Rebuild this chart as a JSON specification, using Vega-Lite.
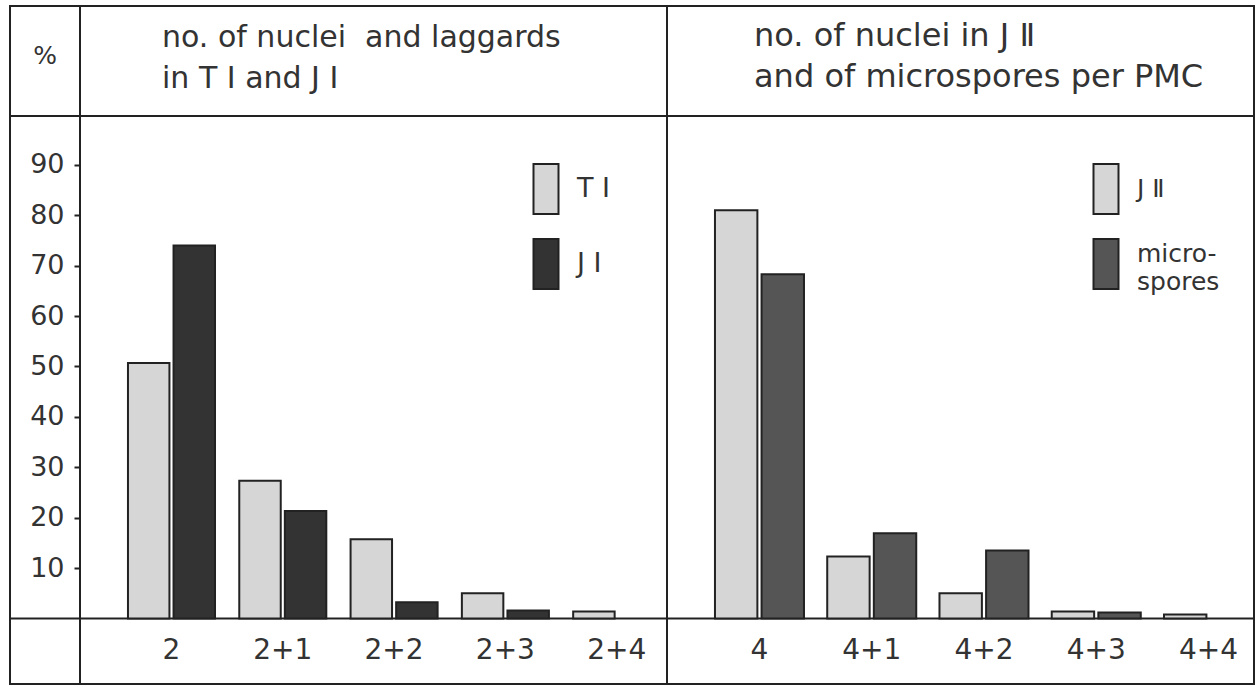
{
  "$schema": "https://vega.github.io/schema/vega-lite/v6.json",
  "padding": {"left": 8, "top": 5, "right": 0, "bottom": 0},
  "background": "white",
  "spacing": 0,
  "bounds": "flush",
  "datasets": {
    "bars": [
      {"panel": "left", "group": "2", "stage": "TⅠ", "pct": 50.7},
      {"panel": "left", "group": "2+1", "stage": "TⅠ", "pct": 27.3},
      {"panel": "left", "group": "2+2", "stage": "TⅠ", "pct": 15.7},
      {"panel": "left", "group": "2+3", "stage": "TⅠ", "pct": 5.0},
      {"panel": "left", "group": "2+4", "stage": "TⅠ", "pct": 1.4},
      {"panel": "left", "group": "2", "stage": "JⅠ", "pct": 74.0},
      {"panel": "left", "group": "2+1", "stage": "JⅠ", "pct": 21.3},
      {"panel": "left", "group": "2+2", "stage": "JⅠ", "pct": 3.2},
      {"panel": "left", "group": "2+3", "stage": "JⅠ", "pct": 1.6},
      {"panel": "right", "group": "4", "stage": "JⅡ", "pct": 81.0},
      {"panel": "right", "group": "4+1", "stage": "JⅡ", "pct": 12.3},
      {"panel": "right", "group": "4+2", "stage": "JⅡ", "pct": 5.0},
      {"panel": "right", "group": "4+3", "stage": "JⅡ", "pct": 1.4},
      {"panel": "right", "group": "4+4", "stage": "JⅡ", "pct": 0.8},
      {"panel": "right", "group": "4", "stage": "microspores", "pct": 68.3},
      {"panel": "right", "group": "4+1", "stage": "microspores", "pct": 16.9},
      {"panel": "right", "group": "4+2", "stage": "microspores", "pct": 13.5},
      {"panel": "right", "group": "4+3", "stage": "microspores", "pct": 1.2}
    ],
    "frame": [
      {"line": "header", "pct": 99.7},
      {"line": "baseline", "pct": 0}
    ]
  },
  "config": {
    "view": {"stroke": "#222", "strokeWidth": 2},
    "font": "DejaVu Sans",
    "title": {"font": "DejaVu Sans", "fontWeight": "normal", "color": "#333"}
  },
  "resolve": {
    "scale": {"x": "independent", "y": "independent", "color": "independent", "xOffset": "independent"},
    "legend": {"color": "independent"}
  },
  "hconcat": [
    {
      "width": 70,
      "height": 678,
      "title": {"text": "%", "anchor": "middle", "frame": "group", "offset": 0, "dy": 75, "baseline": "middle", "fontSize": 25},
      "data": {"name": "frame"},
      "mark": {"type": "rule", "color": "#222", "strokeWidth": 2},
      "encoding": {
        "y": {"field": "pct", "type": "quantitative", "scale": {"domain": [-13, 121.5], "nice": false, "zero": false}, "axis": null}
      }
    },
    {
      "width": 587,
      "height": 678,
      "title": {"text": ["no. of nuclei \u00a0and laggards", "in T Ⅰ and J Ⅰ"], "anchor": "start", "frame": "group", "offset": 0, "dx": 82, "dy": 88, "baseline": "top", "fontSize": 30, "lineHeight": 41},
      "layer": [
        {
          "data": {"name": "frame"},
          "mark": {"type": "rule", "color": "#222", "strokeWidth": 2},
          "encoding": {
            "y": {"field": "pct", "type": "quantitative", "scale": {"domain": [-13, 121.5], "nice": false, "zero": false},
              "axis": {"values": [10, 20, 30, 40, 50, 60, 70, 80, 90], "title": null, "domain": false, "grid": false, "tickSize": 6, "tickWidth": 2, "tickColor": "#222", "labelPadding": 10, "labelFontSize": 27, "labelColor": "#333", "labelFont": "DejaVu Sans"}}
          }
        },
        {
          "data": {"name": "bars"},
          "transform": [{"filter": "datum.panel == 'left'"}],
          "mark": {"type": "bar", "stroke": "#222", "strokeWidth": 2},
          "encoding": {
            "x": {"field": "group", "type": "nominal", "sort": ["2", "2+1", "2+2", "2+3", "2+4"],
              "scale": {"paddingInner": 0.218, "paddingOuter": 0.246, "align": 0.876},
              "axis": {"orient": "bottom", "offset": -65.5, "title": null, "domain": false, "ticks": false, "labelPadding": 18, "labelFontSize": 28, "labelAngle": 0, "labelColor": "#333", "labelFont": "DejaVu Sans"}},
            "xOffset": {"field": "stage", "type": "nominal", "sort": ["TⅠ", "JⅠ"], "scale": {"paddingInner": 0.09}},
            "y": {"field": "pct", "type": "quantitative", "scale": {"domain": [-13, 121.5], "nice": false, "zero": false},
              "axis": {"values": [10, 20, 30, 40, 50, 60, 70, 80, 90], "title": null, "domain": false, "grid": false, "tickSize": 6, "tickWidth": 2, "tickColor": "#222", "labelPadding": 10, "labelFontSize": 27, "labelColor": "#333", "labelFont": "DejaVu Sans"}},
            "color": {"field": "stage", "type": "nominal", "scale": {"domain": ["TⅠ", "JⅠ"], "range": ["#d6d6d6", "#333333"]},
              "legend": {"title": null, "orient": "none", "legendX": 440, "legendY": 157, "padding": 0, "symbolType": "M-0.5,-1H0.5V1H-0.5Z", "symbolSize": 2500, "symbolStrokeColor": "#222", "symbolStrokeWidth": 2, "symbolOpacity": 1, "labelFontSize": 27, "labelOffset": 5, "rowPadding": 17, "labelColor": "#333", "labelFont": "DejaVu Sans",
                "labelExpr": "datum.value == 'TⅠ' ? 'T Ⅰ' : 'J Ⅰ'"}}
          }
        }
      ]
    },
    {
      "width": 587,
      "height": 678,
      "title": {"text": ["no. of nuclei in J Ⅱ", "and of microspores per PMC"], "anchor": "start", "frame": "group", "offset": 0, "dx": 87, "dy": 88, "baseline": "top", "fontSize": 32, "lineHeight": 41},
      "layer": [
        {
          "data": {"name": "frame"},
          "mark": {"type": "rule", "color": "#222", "strokeWidth": 2},
          "encoding": {
            "y": {"field": "pct", "type": "quantitative", "scale": {"domain": [-13, 121.5], "nice": false, "zero": false}, "axis": null}
          }
        },
        {
          "data": {"name": "bars"},
          "transform": [{"filter": "datum.panel == 'right'"}],
          "mark": {"type": "bar", "stroke": "#222", "strokeWidth": 2},
          "encoding": {
            "x": {"field": "group", "type": "nominal", "sort": ["4", "4+1", "4+2", "4+3", "4+4"],
              "scale": {"paddingInner": 0.207, "paddingOuter": 0.218, "align": 0.98},
              "axis": {"orient": "bottom", "offset": -65.5, "title": null, "domain": false, "ticks": false, "labelPadding": 18, "labelFontSize": 28, "labelAngle": 0, "labelColor": "#333", "labelFont": "DejaVu Sans"}},
            "xOffset": {"field": "stage", "type": "nominal", "sort": ["JⅡ", "microspores"], "scale": {"paddingInner": 0.09}},
            "y": {"field": "pct", "type": "quantitative", "scale": {"domain": [-13, 121.5], "nice": false, "zero": false}, "axis": null},
            "color": {"field": "stage", "type": "nominal", "scale": {"domain": ["JⅡ", "microspores"], "range": ["#d6d6d6", "#555555"]},
              "legend": {"title": null, "orient": "none", "legendX": 413, "legendY": 157, "padding": 0, "symbolType": "M-0.5,-1H0.5V1H-0.5Z", "symbolSize": 2500, "symbolStrokeColor": "#222", "symbolStrokeWidth": 2, "symbolOpacity": 1, "labelFontSize": 25, "labelOffset": 5, "rowPadding": 17, "labelColor": "#333", "labelFont": "DejaVu Sans",
                "labelExpr": "datum.value == 'microspores' ? ['micro-', 'spores'] : 'J Ⅱ'",
                "encode": {"labels": {"update": {"lineHeight": {"value": 28}, "dy": {"signal": "datum.value == 'microspores' ? -10 : 0"}}}}}}
          }
        }
      ]
    }
  ]
}
